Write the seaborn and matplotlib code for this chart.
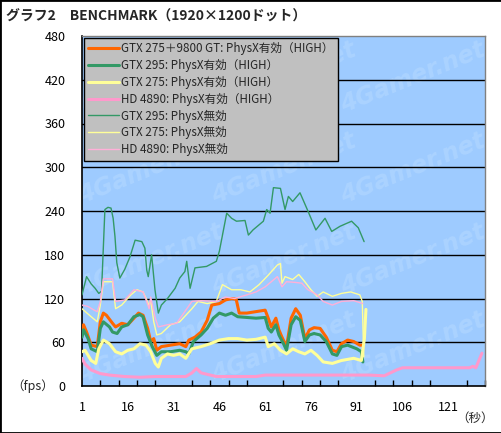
import matplotlib
matplotlib.use("Agg")
import matplotlib.pyplot as plt
import seaborn as sns
import pandas as pd
from matplotlib.patches import Rectangle

sns.set_theme(style="white")
plt.rcParams['font.family'] = ['Noto Sans CJK JP', 'DejaVu Sans']

# ---------------- data ----------------
labels = [
    "GTX 275＋9800 GT: PhysX有効（HIGH）",
    "GTX 295: PhysX有効（HIGH）",
    "GTX 275: PhysX有効（HIGH）",
    "HD 4890: PhysX有効（HIGH）",
    "GTX 295: PhysX無効",
    "GTX 275: PhysX無効",
    "HD 4890: PhysX無効",
]

orange_x = [1, 1.5, 2.5, 4, 6, 7, 8, 9, 11, 12, 14, 16, 18, 19.5, 21, 22.5, 23.5, 24.5, 25.5, 27, 30, 33, 35, 36,
            38, 40, 42, 43.5, 46, 48, 50, 51.5, 52.5, 55, 58, 61, 62, 63, 64.5, 65.5, 66.5, 68, 69.5, 71, 72.5,
            74, 75.5, 77, 79, 81, 83, 84.5, 86, 88, 90, 92, 93]
orange_y = [77, 84, 74, 56, 54, 88, 100, 97, 86, 81, 86, 84, 93, 100, 97, 79, 61, 65, 49, 54, 56, 58, 54, 63,
            67, 74, 90, 111, 113, 118, 120, 119, 100, 100, 102, 104, 93, 81, 93, 77, 67, 54, 93, 106, 97,
            65, 77, 80, 79, 67, 49, 47, 58, 63, 61, 56, 56]

green_h_x = [1, 1.5, 3, 4, 6, 7, 8, 10, 11, 12.5, 14, 16, 18, 20, 21, 22.5, 24, 25.5, 27, 30, 33, 35, 36, 37.5,
             40, 42, 44, 46, 48, 50, 52, 55, 58, 61, 62, 63, 64.5, 65.5, 67, 68, 69.5, 71, 72.5, 74, 75.5, 77,
             79, 81, 83, 84.5, 86, 88, 91, 92.5, 93]
green_h_y = [67, 77, 65, 51, 47, 79, 88, 81, 74, 72, 81, 84, 95, 98, 95, 70, 54, 42, 47, 47, 49, 47, 44, 61,
             70, 79, 93, 100, 97, 100, 95, 94, 93, 94, 79, 74, 84, 70, 58, 49, 84, 95, 90, 61, 70, 72,
             70, 61, 44, 42, 54, 56, 51, 47, 33]

yellow_h_x = [1, 2, 4, 5.5, 6.5, 8, 10, 12, 14, 16, 18, 20, 22, 23.5, 25, 26, 27, 29, 31, 33, 35, 37, 40, 43,
              46, 49, 52, 55, 58, 61, 62, 64, 66, 68, 70, 72, 74, 76, 78, 80, 83, 86, 90, 92.5, 93.5, 94]
yellow_h_y = [47, 49, 35, 31, 51, 63, 58, 47, 44, 49, 51, 58, 56, 47, 31, 26, 38, 44, 42, 44, 38, 51, 54, 58,
              63, 65, 65, 63, 64, 67, 54, 58, 49, 44, 51, 47, 44, 49, 42, 33, 31, 35, 38, 35, 65, 105]

pink_h_x = [1, 2, 4, 7, 10, 15, 20, 25, 30, 35, 37, 38.5, 40, 43, 45, 50, 55, 58, 61, 70, 80, 90, 95, 100,
            102, 104, 106, 110, 120, 128, 129, 130, 131, 132]
pink_h_y = [38, 30, 22, 17, 15, 13, 12, 13, 13, 13, 18, 24, 18, 15, 13, 13, 13, 13, 15, 15, 15, 15, 15, 14,
            18, 22, 25, 25, 25, 25, 27, 25, 35, 45]

green_n_x = [1, 2.5, 4, 5.3, 6.5, 7.4, 8.5, 9.5, 10.5, 11.2, 11.8, 12.4, 13.4, 15, 16.7, 18.4, 20.6, 21.6, 22.2,
             22.7, 23.3, 23.8, 24.9, 26, 27, 29, 31.5, 33, 34.7, 35.3, 36.4, 38, 41.8, 45, 46, 48.4, 50, 51.6,
             54.4, 55.5, 57, 60.4, 61.5, 62.6, 63.7, 66, 67.5, 68.6, 70, 72.4, 75, 77.6, 80.6, 82.8, 85.5,
             89.3, 91.5, 93.4]
green_n_y = [125, 150, 140, 134, 127, 130, 242, 245, 244, 230, 205, 169, 148, 160, 177, 200, 198, 189, 159,
             150, 166, 180, 132, 100, 111, 120, 134, 148, 157, 171, 134, 162, 164, 171, 185, 237, 230, 226,
             227, 207, 214, 226, 242, 237, 272, 271, 242, 260, 253, 265, 240, 214, 230, 212, 219, 226, 217,
             198]

yellow_n_x = [1, 4, 6, 7, 8, 11, 12, 14, 17, 19, 21, 22, 23, 23.5, 24.5, 25.5, 27, 30, 33, 35, 37, 39, 42, 45,
              47, 50, 53, 56, 59, 62, 65, 66, 66.5, 67.5, 70, 72, 74, 76, 78, 80, 83, 86, 89, 92, 92.8, 93.3]
yellow_n_y = [106, 95, 88, 111, 143, 143, 106, 111, 125, 132, 129, 120, 110, 118, 88, 70, 72, 84, 88, 97, 106,
              116, 113, 116, 139, 132, 132, 129, 139, 152, 166, 168, 141, 150, 146, 153, 143, 132, 123, 129,
              123, 127, 129, 125, 116, 40]

pink_n_x = [1, 3, 5, 6, 7, 8, 11, 12, 15, 18, 21, 22, 23, 23.5, 25, 26, 29, 32, 35, 37, 40, 45, 48, 51, 55,
            58, 61, 63, 65, 66.5, 68, 71, 73, 75, 78, 80, 83, 86, 90, 93]
pink_n_y = [111, 109, 104, 102, 116, 147, 147, 116, 118, 132, 129, 118, 106, 122, 93, 81, 84, 86, 104, 116,
            117, 116, 122, 120, 125, 129, 136, 143, 150, 136, 143, 142, 141, 132, 125, 116, 111, 116, 117, 113]

x_tick_values = [1, 16, 31, 46, 61, 76, 91, 106, 121]
y_tick_values = [0, 60, 120, 180, 240, 300, 360, 420, 480]

series = [
    (labels[0], orange_x, orange_y, "#FF6600", 2.2),
    (labels[1], green_h_x, green_h_y, "#339966", 2.2),
    (labels[2], yellow_h_x, yellow_h_y, "#FFFF99", 2.2),
    (labels[3], pink_h_x, pink_h_y, "#FF99CC", 2.2),
    (labels[4], green_n_x, green_n_y, "#339966", 1.0),
    (labels[5], yellow_n_x, yellow_n_y, "#FFFF99", 1.0),
    (labels[6], pink_n_x, pink_n_y, "#FFB0D8", 1.0),
]

# ---------------- figure ----------------
fig = plt.figure(figsize=(5.02, 4.33), dpi=100)
fig.patch.set_facecolor("white")
ax = fig.add_axes([82 / 502, 47 / 433, 403 / 502, 350 / 433])
ax.set_facecolor("#9ECBFF")

# faint watermark
for (wx, wy) in [(0.17, 0.88), (0.5, 0.88), (0.82, 0.88),
                 (0.17, 0.62), (0.5, 0.62), (0.82, 0.62),
                 (0.17, 0.36), (0.5, 0.36), (0.82, 0.36),
                 (0.17, 0.11), (0.5, 0.11), (0.82, 0.11)]:
    ax.text(wx, wy, "4Gamer.net", transform=ax.transAxes, fontsize=17, fontweight="bold",
            color="#ABD3FF", rotation=22, ha="center", va="center", zorder=0.5,
            family=["DejaVu Sans"], style="italic", clip_on=True)

for v in y_tick_values[1:-1]:
    ax.axhline(v, color="black", lw=1.0, zorder=1)

for name, xs, ys, col, lw in series:
    df = pd.DataFrame({"sec": xs, "fps": ys})
    sns.lineplot(data=df, x="sec", y="fps", ax=ax, color=col, lw=lw, label=name,
                 estimator=None, sort=False, zorder=3)

ax.set_xlim(1, 133)
ax.set_ylim(0, 480)
ax.set_xticks(x_tick_values)
ax.set_xticklabels([str(v) for v in x_tick_values])
ax.set_xticks(list(range(7, 134, 6)), minor=True)
ax.set_yticks(y_tick_values)
ax.set_yticklabels([str(v) for v in y_tick_values])
ax.tick_params(axis="x", which="major", length=0, pad=11, labelsize=9, colors="black")
ax.tick_params(axis="x", which="minor", length=4, width=1, direction="in", color="black", bottom=True)
ax.tick_params(axis="y", which="major", length=0, pad=12, labelsize=9, colors="black")
ax.set_xlabel("")
ax.set_ylabel("")
ax.grid(False)

for s in ["left", "bottom"]:
    ax.spines[s].set_color("black")
    ax.spines[s].set_linewidth(1.2)
for s in ["top", "right"]:
    ax.spines[s].set_color("#808080")
    ax.spines[s].set_linewidth(1.0)

leg = ax.legend(loc="upper left", bbox_to_anchor=(0.0, 1.0), borderaxespad=0.15, fontsize=8.4,
                frameon=True, fancybox=False, framealpha=1, facecolor="#C0C0C0", edgecolor="black",
                handlelength=2.6, handletextpad=0.2, labelspacing=0.32, borderpad=0.4)
leg.get_frame().set_linewidth(1.0)
leg.set_zorder(5)

fig.text(6 / 502, 1 - 17 / 433, "グラフ2　BENCHMARK（1920×1200ドット）", fontsize=10, fontweight="bold",
         ha="left", va="center")
fig.text(54 / 502, 1 - 386 / 433, "（fps）", fontsize=9, ha="right", va="center")
fig.text(494 / 502, 1 - 418 / 433, "（秒）", fontsize=9, ha="right", va="center")

fig.add_artist(Rectangle((0, 0), 1, 1, transform=fig.transFigure, fill=False, edgecolor="black", lw=2))

fig.savefig("out.png", dpi=100)
